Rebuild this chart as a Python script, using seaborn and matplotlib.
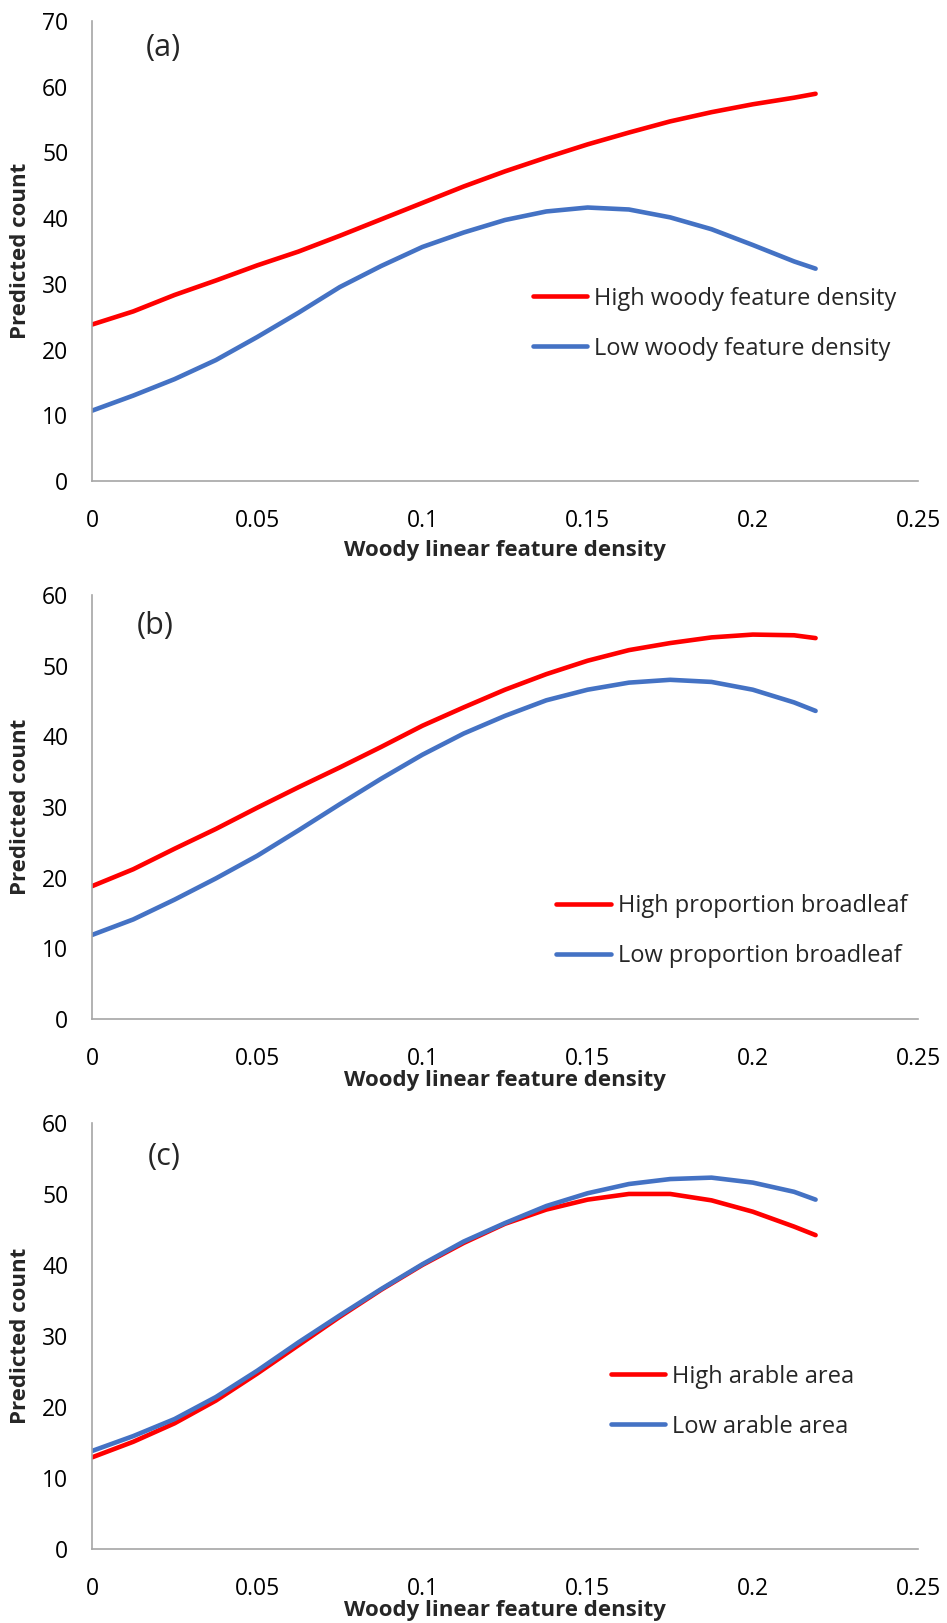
import numpy as np
import pandas as pd

import matplotlib
matplotlib.use('Agg')

import matplotlib.pyplot as plt
import seaborn as sns

# x values along the woody linear feature density axis
x = [0, 0.0125, 0.025, 0.0375, 0.05, 0.0625, 0.075, 0.0875, 0.1, 0.1125,
     0.125, 0.1375, 0.15, 0.1625, 0.175, 0.1875, 0.2, 0.2125, 0.219]

# panel (a)
a_high = [23.8, 25.8, 28.3, 30.5, 32.8, 34.9, 37.3, 39.8, 42.3, 44.8,
          47.1, 49.2, 51.2, 53.0, 54.7, 56.1, 57.3, 58.3, 58.9]
a_low = [10.7, 13.0, 15.5, 18.4, 21.9, 25.6, 29.5, 32.7, 35.6, 37.8,
         39.7, 41.0, 41.6, 41.3, 40.1, 38.3, 35.9, 33.4, 32.3]
a_names = ["High woody feature density", "Low woody feature density"]

# panel (b)
b_high = [18.8, 21.2, 24.1, 26.9, 29.9, 32.8, 35.6, 38.5, 41.5, 44.1,
          46.6, 48.8, 50.7, 52.2, 53.2, 54.0, 54.4, 54.3, 53.9]
b_low = [11.9, 14.1, 16.9, 19.9, 23.1, 26.7, 30.4, 34.0, 37.4, 40.4,
         42.9, 45.1, 46.6, 47.6, 48.0, 47.7, 46.6, 44.8, 43.6]
b_names = ["High proportion broadleaf", "Low proportion broadleaf"]

# panel (c)
c_high = [12.9, 15.1, 17.7, 20.9, 24.7, 28.7, 32.7, 36.5, 40.0, 43.1,
          45.8, 47.8, 49.2, 50.0, 50.0, 49.1, 47.5, 45.4, 44.2]
c_low = [13.8, 15.9, 18.3, 21.4, 25.1, 29.1, 32.9, 36.6, 40.1, 43.3,
         45.9, 48.3, 50.1, 51.4, 52.1, 52.3, 51.6, 50.3, 49.2]
c_names = ["High arable area", "Low arable area"]

x_ticks = [0, 0.05, 0.1, 0.15, 0.2, 0.25]
x_tick_labels = ["0", "0.05", "0.1", "0.15", "0.2", "0.25"]

sns.set_style("white")
plt.rcParams['font.family'] = ['Open Sans', 'DejaVu Sans']

AXIS_GREY = "#A6A6A6"
colors = ["#FF0000", "#4472C4"]

panels = [
    # letter, high, low, names, ymax, axes rect, legend anchor, xlabel y, letter pos
    ("(a)", a_high, a_low, a_names, 70, [0.0971, 0.7036, 0.8723, 0.2836], (0.534, 0.342), -0.128, (0.0215, 65.9)),
    ("(b)", b_high, b_low, b_names, 60, [0.0971, 0.3721, 0.8723, 0.2613], (0.562, 0.2075), -0.121, (0.0192, 55.6)),
    ("(c)", c_high, c_low, c_names, 60, [0.0971, 0.0456, 0.8723, 0.2625], (0.628, 0.346), -0.120, (0.0218, 55.2)),
]

fig = plt.figure(figsize=(9.47, 16.23), dpi=100)

for letter, high, low, names, ymax, rect, leg_pos, xlab_y, letter_pos in panels:
    ax = fig.add_axes(rect)
    df = pd.DataFrame({
        "x": x + x,
        "y": high + low,
        "series": [names[0]] * len(x) + [names[1]] * len(x),
    })
    sns.lineplot(data=df, x="x", y="y", hue="series", hue_order=names,
                 palette=colors, linewidth=3.3, solid_capstyle="round", ax=ax)

    ax.set_xlim(0, 0.25)
    ax.set_ylim(0, ymax)
    ax.set_xticks(x_ticks)
    ax.set_xticklabels(x_tick_labels)
    ax.set_yticks(np.arange(0, ymax + 1, 10))

    for side in ["top", "right"]:
        ax.spines[side].set_visible(False)
    for side in ["left", "bottom"]:
        ax.spines[side].set_color(AXIS_GREY)
        ax.spines[side].set_linewidth(1.2)
    ax.tick_params(axis="both", direction="out", length=7, width=1.2,
                   color=AXIS_GREY, labelsize=16.5, labelcolor="black")
    ax.tick_params(axis="y", pad=10)
    ax.tick_params(axis="x", pad=13)

    ax.set_xlabel("Woody linear feature density", fontsize=16, fontweight="bold")
    ax.set_ylabel("Predicted count", fontsize=16, fontweight="bold")
    ax.xaxis.set_label_coords(0.5, xlab_y)
    ax.yaxis.set_label_coords(-0.074, 0.5)

    ax.text(letter_pos[0], letter_pos[1], letter, fontsize=22,
            ha="center", va="center")

    handles, labels = ax.get_legend_handles_labels()
    ax.legend(handles, labels, loc="center left", bbox_to_anchor=leg_pos,
              frameon=False, fontsize=17, handlelength=2.3,
              handletextpad=0.3, labelspacing=1.1, borderpad=0,
              borderaxespad=0)

fig.savefig("out.png", dpi=100)
plt.close()
